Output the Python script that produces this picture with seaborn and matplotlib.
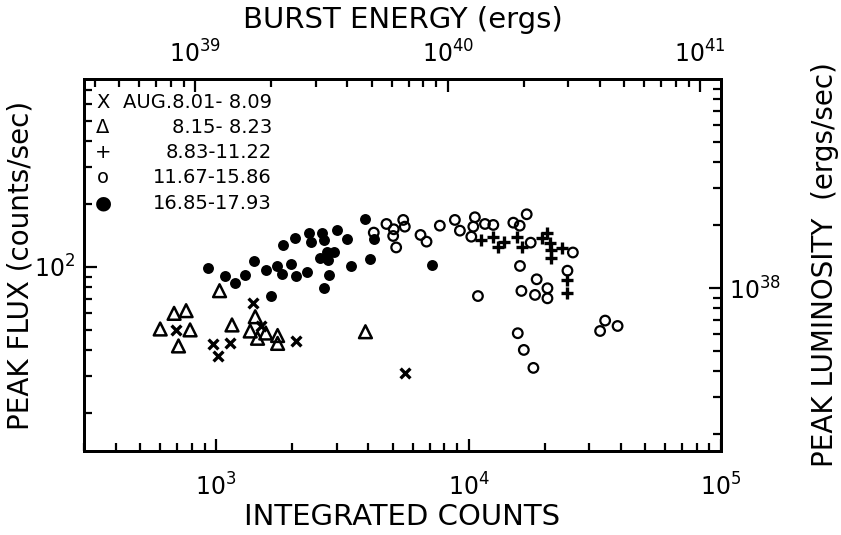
import numpy as np
import pandas as pd
import matplotlib
matplotlib.use("Agg")
import matplotlib.pyplot as plt
import seaborn as sns
from matplotlib.ticker import LogLocator, FixedLocator, NullFormatter

# --- Datos (cuentas integradas, flujo pico en cuentas/s) ---
cruz_x = [694, 970, 1012, 1137, 1398, 1499, 2068, 5623]
cruz_y = [50.0, 43.0, 37.4, 43.5, 67.5, 52.2, 44.4, 31.2]

tri_x = [600, 681, 760, 788, 709, 1031, 1155, 1428, 1364, 1458, 1572, 1751, 1751, 3902]
tri_y = [50.5, 60.0, 61.8, 50.0, 41.9, 77.0, 52.8, 57.8, 49.4, 45.6, 48.3, 47.0, 43.1, 49.0]

mas_x = [11160, 12530, 13070, 13810, 15610, 16340, 19610, 20530, 21020, 21150,
         21290, 23540, 24640, 24640]
mas_y = [134.7, 139.6, 125.0, 132.2, 139.6, 125.0, 137.2, 145.0, 130.7, 120.6,
         110.0, 122.9, 86.7, 75.3]

abierto_x = [4210, 4727, 5053, 5508, 5588, 5025, 5165, 6449, 6813, 7692, 8823, 9237,
             10590, 10440, 10250, 11610, 12530, 15040, 15940, 16990, 17620, 25890,
             15980, 24640, 18610, 20530, 16190, 18330, 20530, 10890, 15660, 16550,
             18060, 33190, 34750, 38930]
abierto_y = [146.0, 160.6, 151.5, 167.9, 155.9, 140.7, 124.0, 142.3, 132.2, 157.6, 167.9, 149.2,
             172.9, 155.9, 139.6, 160.6, 158.9, 162.9, 157.6, 178.7, 130.7, 117.3,
             101.1, 96.0, 87.3, 79.1, 76.8, 73.5, 70.8, 72.6, 48.2, 40.1,
             32.9, 49.4, 55.4, 52.2]

lleno_x = [930, 1083, 1184, 1300, 1406, 1569, 1650, 1747, 1828, 1836, 1978, 2077,
           2290, 2058, 2325, 2382, 2627, 2666, 3013, 3302, 2745, 2920, 2587, 2783,
           2666, 2790, 3434, 3902, 4210, 4084, 7178]
lleno_y = [98.6, 90.6, 83.6, 91.4, 107.2, 96.7, 72.6, 100.6, 92.6, 127.4, 103.4, 90.6,
           94.9, 137.2, 146.0, 131.0, 145.0, 134.7, 150.3, 135.7, 118.0, 118.0, 110.0, 108.0,
           79.1, 91.6, 101.1, 169.2, 136.1, 109.2, 102.2]

periodos = ["AUG.8.01- 8.09", "8.15- 8.23", "8.83-11.22", "11.67-15.86", "16.85-17.93"]
simbolos = ["X", "Δ", "+", "o", "●"]

# --- Armar tabla ---
grupos = [(cruz_x, cruz_y), (tri_x, tri_y), (mas_x, mas_y), (abierto_x, abierto_y), (lleno_x, lleno_y)]
df = pd.concat([pd.DataFrame({"cuentas": gx, "flujo": gy, "periodo": p})
                for (gx, gy), p in zip(grupos, periodos)], ignore_index=True)

# --- Estilo ---
sns.set_style("ticks")
plt.rcParams["font.family"] = ["DejaVu Sans"]
plt.rcParams["mathtext.fontset"] = "dejavusans"
for k in ["text.color", "axes.labelcolor", "xtick.color", "ytick.color", "axes.edgecolor"]:
    plt.rcParams[k] = "black"

fig = plt.figure(figsize=(8.41, 5.35), dpi=100)
ax = fig.add_axes([84 / 841, 1 - 451 / 535, (721 - 84) / 841, (451 - 79) / 535])

estilos = {
    periodos[0]: dict(marker="x", s=50, linewidth=2.4, color="black"),
    periodos[1]: dict(marker="^", s=85, linewidth=1.8, facecolor="none", edgecolor="black"),
    periodos[2]: dict(marker="+", s=85, linewidth=2.4, color="black"),
    periodos[3]: dict(marker="o", s=48, linewidth=1.6, facecolor="none", edgecolor="black"),
    periodos[4]: dict(marker="o", s=62, linewidth=0, color="black"),
}
for p in periodos:
    sub = df[df["periodo"] == p]
    sns.scatterplot(data=sub, x="cuentas", y="flujo", ax=ax, legend=False, **estilos[p])

ax.set_xscale("log")
ax.set_yscale("log")
xlim = (299.4, 1e5)
ylim = (13.17, 793)
ax.set_xlim(*xlim)
ax.set_ylim(*ylim)

# --- Ejes secundarios (energia y luminosidad) ---
ax_top = ax.twiny()
ax_top.set_xscale("log")
ax_top.set_xlim(xlim[0] * 1.21e36, xlim[1] * 1.21e36)

ax_der = ax.twinx()
ax_der.set_yscale("log")
ax_der.set_ylim(ylim[0] * 1.261e36, ylim[1] * 1.261e36)
ax_der.yaxis.set_major_locator(FixedLocator([1e38]))

for a in (ax, ax_top, ax_der):
    a.tick_params(which="major", direction="in", length=9, width=1.6, labelsize=17, pad=6)
    a.tick_params(which="minor", direction="in", length=6, width=1.6)
    a.xaxis.set_minor_locator(LogLocator(base=10, subs=np.arange(2, 10), numticks=20))
    a.xaxis.set_minor_formatter(NullFormatter())
    a.yaxis.set_minor_formatter(NullFormatter())
ax.yaxis.set_minor_locator(LogLocator(base=10, subs=np.arange(2, 10), numticks=20))
ax_der.yaxis.set_minor_locator(LogLocator(base=10, subs=np.arange(2, 10), numticks=20))
ax.tick_params(top=False, right=False)
ax.tick_params(axis="x", which="major", pad=16)
ax_top.tick_params(axis="x", which="major", pad=8)

for a in (ax, ax_top, ax_der):
    for sp in a.spines.values():
        sp.set_linewidth(2)
        sp.set_color("black")

ax.set_xlabel("INTEGRATED COUNTS", fontsize=21, labelpad=2)
ax.set_ylabel("PEAK FLUX (counts/sec)", fontsize=20, labelpad=0)
ax_top.set_xlabel("BURST ENERGY (ergs)", fontsize=21, labelpad=9)
ax_der.set_ylabel("PEAK LUMINOSITY  (ergs/sec)", fontsize=20, labelpad=21)

# --- Leyenda de texto ---
for i, (sim, per) in enumerate(zip(simbolos, periodos)):
    yy = 102 + i * 25.3
    fig.text(103 / 841, 1 - yy / 535, sim, fontsize=14, ha="center", va="center")
    fig.text(272 / 841, 1 - yy / 535, per, fontsize=14, ha="right", va="center")

plt.savefig("out.png", dpi=100)
